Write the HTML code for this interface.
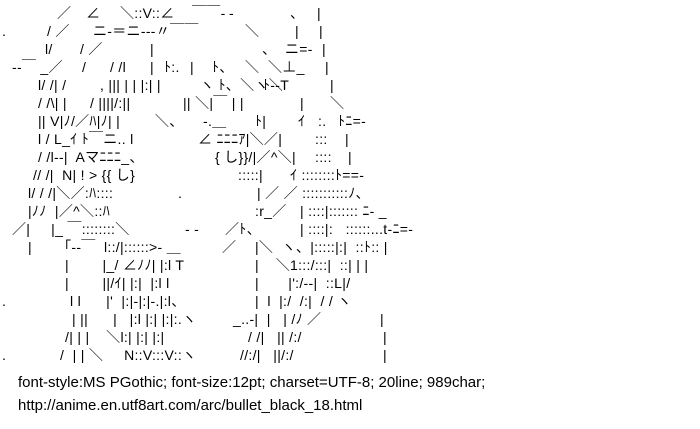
<!DOCTYPE html>
<html><head><meta charset="utf-8"><style>
body{margin:0;width:700px;height:429px;background:#fff;overflow:hidden;position:relative;font-family:"Liberation Sans","Noto Sans CJK JP",sans-serif;color:#000}
.t{position:absolute;font-size:14px;line-height:18px;white-space:pre;letter-spacing:0.3px}
.f{position:absolute;font-size:15px;white-space:pre;left:18px}
</style></head><body>
<div class="t" style="top:4px;left:57px">／</div><div class="t" style="top:4px;left:86px">∠</div><div class="t" style="top:4px;left:120px">＼::V::∠</div><div class="t" style="top:4px;left:192px">￣￣‐</div><div class="t" style="top:4px;left:229px">-</div><div class="t" style="top:4px;left:290px">、</div><div class="t" style="top:4px;left:317px">|</div>
<div class="t" style="top:22px;left:2px">.</div><div class="t" style="top:22px;left:47px">/ ／</div><div class="t" style="top:22px;left:93px">ニ‐＝ニ‐‐‐〃￣￣</div><div class="t" style="top:22px;left:245px">＼</div><div class="t" style="top:22px;left:295px">|</div><div class="t" style="top:22px;left:319px">|</div>
<div class="t" style="top:40px;left:45px">l/</div><div class="t" style="top:40px;left:80px">/ ／</div><div class="t" style="top:40px;left:150px">|</div><div class="t" style="top:40px;left:262px">、</div><div class="t" style="top:40px;left:285px">ニ=‐</div><div class="t" style="top:40px;left:322px">|</div>
<div class="t" style="top:58px;left:12px">‐‐￣ _／</div><div class="t" style="top:58px;left:82px">/</div><div class="t" style="top:58px;left:110px">/ /l</div><div class="t" style="top:58px;left:150px">|</div><div class="t" style="top:58px;left:164px">ﾄ:.</div><div class="t" style="top:58px;left:190px">|</div><div class="t" style="top:58px;left:212px">ﾄ、</div><div class="t" style="top:58px;left:245px">＼</div><div class="t" style="top:58px;left:268px">＼⊥_</div><div class="t" style="top:58px;left:325px">|</div>
<div class="t" style="top:76px;left:38px">l/ /| /</div><div class="t" style="top:76px;left:100px">, ||| | | |:| |</div><div class="t" style="top:76px;left:200px">ヽ ﾄ、＼ヽ＼</div><div class="t" style="top:76px;left:263px">ﾄ‐‐T</div><div class="t" style="top:76px;left:330px">|</div>
<div class="t" style="top:94px;left:38px">/ /\| |</div><div class="t" style="top:94px;left:90px">/ ||||/:||</div><div class="t" style="top:94px;left:183px">|| ＼|￣ | |</div><div class="t" style="top:94px;left:300px">|</div><div class="t" style="top:94px;left:330px">＼</div>
<div class="t" style="top:112px;left:38px">|| V|ﾉ/／ﾊ|ﾉ| |</div><div class="t" style="top:112px;left:155px">＼、</div><div class="t" style="top:112px;left:203px">-.＿</div><div class="t" style="top:112px;left:255px">ﾄ|</div><div class="t" style="top:112px;left:298px">ｲ</div><div class="t" style="top:112px;left:318px">:.</div><div class="t" style="top:112px;left:338px">ﾄﾆ=‐</div>
<div class="t" style="top:130px;left:38px">l / L_ｲ ﾄ￣ニ.. l</div><div class="t" style="top:130px;left:198px">∠ ﾆﾆﾆｱ|＼／|</div><div class="t" style="top:130px;left:315px">:::</div><div class="t" style="top:130px;left:345px">|</div>
<div class="t" style="top:148px;left:38px">/ /l‐‐|  Aマﾆﾆﾆ_、</div><div class="t" style="top:148px;left:215px">{ し}}/|／^＼|</div><div class="t" style="top:148px;left:315px">::::</div><div class="t" style="top:148px;left:348px">|</div>
<div class="t" style="top:166px;left:33px">// /|  N| ! &gt; {{ し}</div><div class="t" style="top:166px;left:238px">:::::|</div><div class="t" style="top:166px;left:290px">ｲ ::::::::ﾄ==‐</div>
<div class="t" style="top:184px;left:28px">l/ / /|＼／:ﾊ::::</div><div class="t" style="top:184px;left:178px">.</div><div class="t" style="top:184px;left:257px">| ／ ／ :::::::::::ﾉ、</div>
<div class="t" style="top:202px;left:28px">|ﾉﾉ  |／^＼::ﾊ</div><div class="t" style="top:202px;left:255px">:r_／</div><div class="t" style="top:202px;left:300px">| ::::|::::::: ﾆ‐ _</div>
<div class="t" style="top:220px;left:12px">／|     |_ ￣::::::::＼</div><div class="t" style="top:220px;left:185px">- -</div><div class="t" style="top:220px;left:225px">／ﾄ、</div><div class="t" style="top:220px;left:300px">| ::::|:   ::::::...t‐ﾆ=‐</div>
<div class="t" style="top:238px;left:28px">|      「‐‐￣  l::/|::::::&gt;‐ ＿</div><div class="t" style="top:238px;left:222px">／</div><div class="t" style="top:238px;left:255px">|＼  ヽ、|:::::|:|  ::ﾄ:: |</div>
<div class="t" style="top:256px;left:65px">|        |_/ ∠ﾉﾉ| |:l T</div><div class="t" style="top:256px;left:255px">|    ＼1:::/:::|  ::| | |</div>
<div class="t" style="top:274px;left:65px">|        ||/ｲ| |:|  |:l l</div><div class="t" style="top:274px;left:255px">|       |':/‐‐|  ::L|/</div>
<div class="t" style="top:292px;left:2px">.</div><div class="t" style="top:292px;left:70px">l l      |'  |:|‐|:|‐.|:l、</div><div class="t" style="top:292px;left:255px">|  l  |:/  /:|  / / ヽ</div>
<div class="t" style="top:310px;left:72px">| ||      |   |:l |:| |:|:.ヽ</div><div class="t" style="top:310px;left:233px">_..‐|  |   | /ﾉ ／</div><div class="t" style="top:310px;left:380px">|</div>
<div class="t" style="top:328px;left:65px">/| | |    ＼l:| |:| |:|</div><div class="t" style="top:328px;left:248px">/ /|   || /:/</div><div class="t" style="top:328px;left:383px">|</div>
<div class="t" style="top:346px;left:2px">.</div><div class="t" style="top:346px;left:60px">/  | | ＼     N::V:::V::ヽ</div><div class="t" style="top:346px;left:240px">//:/|   ||/:/</div><div class="t" style="top:346px;left:383px">|</div>
<div class="f" style="top:374px">font-style:MS PGothic; font-size:12pt; charset=UTF-8; 20line; 989char;</div>
<div class="f" style="top:397px">http://anime.en.utf8art.com/arc/bullet_black_18.html</div>
</body></html>
